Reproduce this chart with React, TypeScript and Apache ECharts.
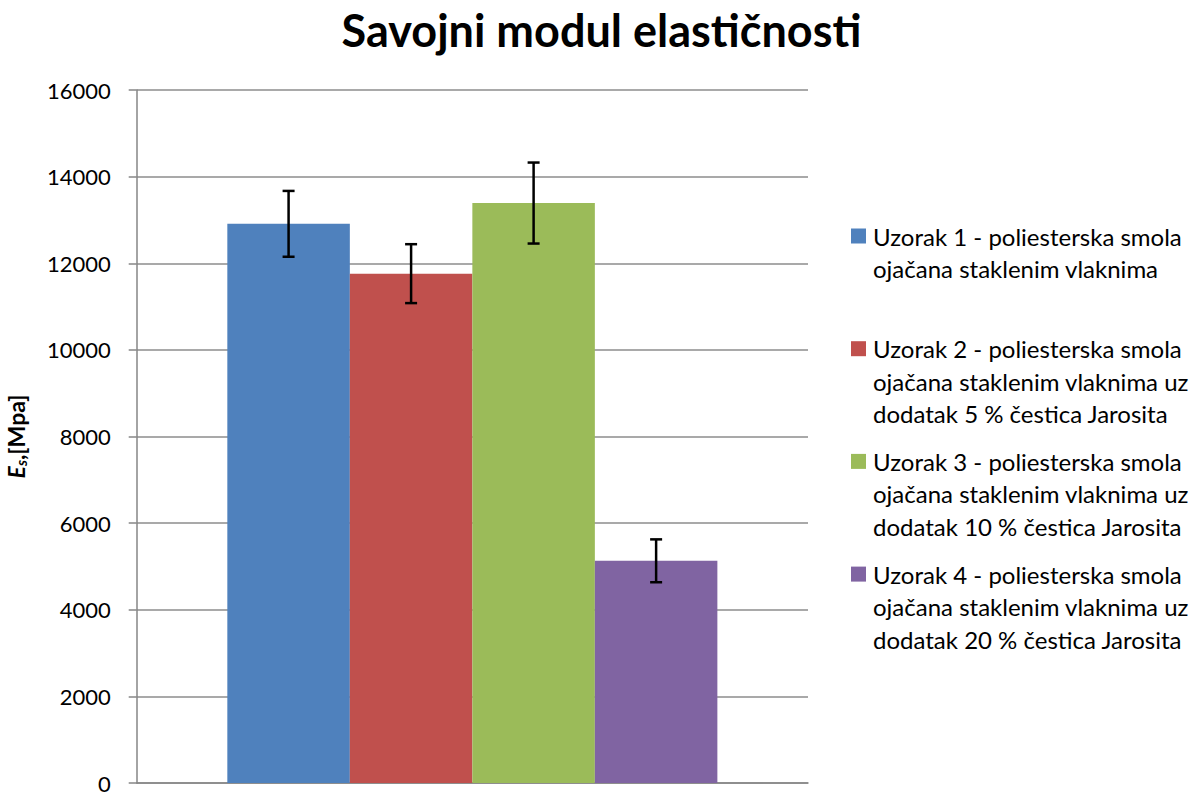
import React, { useEffect, useRef } from "react";
import * as echarts from "echarts";

const categories = [""];
const seriesNames = [
  "Uzorak 1 - poliesterska smola ojačana staklenim vlaknima",
  "Uzorak 2 - poliesterska smola ojačana staklenim vlaknima uz dodatak 5 % čestica Jarosita",
  "Uzorak 3 - poliesterska smola ojačana staklenim vlaknima uz dodatak 10 % čestica Jarosita",
  "Uzorak 4 - poliesterska smola ojačana staklenim vlaknima uz dodatak 20 % čestica Jarosita",
];
const legendLines = [
  ["Uzorak 1 - poliesterska smola", "ojačana staklenim vlaknima"],
  ["Uzorak 2 - poliesterska smola", "ojačana staklenim vlaknima uz", "dodatak 5 % čestica Jarosita"],
  ["Uzorak 3 - poliesterska smola", "ojačana staklenim vlaknima uz", "dodatak 10 % čestica Jarosita"],
  ["Uzorak 4 - poliesterska smola", "ojačana staklenim vlaknima uz", "dodatak 20 % čestica Jarosita"],
];
const values = [12910, 11760, 13390, 5130];
const errors = [760, 680, 935, 495];
const colors = ["#4F81BD", "#C0504D", "#9BBB59", "#8064A2"];
const yMin = 0;
const yMax = 16000;
const yInterval = 2000;
const titleText = "Savojni modul elastičnosti";

const CAT_GAP = 0.27;

export default function App() {
  const ref = useRef<HTMLDivElement>(null);
  useEffect(() => {
    if (!ref.current) return;
    const chart = echarts.init(ref.current, null, { renderer: "svg" });

    const barSeries = seriesNames.map((name, i) => ({
      name,
      type: "bar",
      data: [values[i]],
      barGap: "0%",
      barCategoryGap: CAT_GAP * 100 + "%",
      itemStyle: { color: colors[i] },
      z: 2,
    }));

    const errData = values.map((v, i) => [0, v - errors[i], v + errors[i], i]);

    const legendGraphics: any[] = [];
    const legendTop = 236;
    const legendStep = 112.7;
    const lineH = 32.5;
    legendLines.forEach((lines, i) => {
      const cy = legendTop + i * legendStep;
      legendGraphics.push({
        type: "rect",
        shape: { x: 851, y: cy - 7.5, width: 15, height: 15 },
        style: { fill: colors[i] },
      });
      legendGraphics.push({
        type: "text",
        x: 873,
        y: cy - lineH / 2,
        style: {
          text: lines.join("\n"),
          font: "24px Lato",
          fill: "#000",
          lineHeight: lineH,
          verticalAlign: "top",
          align: "left",
        },
      });
    });

    chart.setOption({
      animation: false,
      title: {
        text: titleText,
        left: "center",
        top: 2,
        textStyle: { fontFamily: "Lato", fontWeight: "bold", fontSize: 45, color: "#000" },
      },
      grid: {
        left: 136.7,
        right: 395,
        top: 90,
        bottom: 9,
        containLabel: false,
        outerBoundsMode: "none",
      },
      xAxis: {
        type: "category",
        data: categories,
        axisLine: { lineStyle: { color: "#868686", width: 1.5 } },
        axisTick: { show: false },
        axisLabel: { show: false },
      },
      yAxis: {
        type: "value",
        min: yMin,
        max: yMax,
        interval: yInterval,
        name: "{e|E}{s|s}{n|,[Mpa]}",
        nameLocation: "middle",
        nameGap: 108,
        nameTextStyle: {
          rich: {
            e: { fontFamily: "Lato", fontWeight: "bold", fontStyle: "italic", fontSize: 23, lineHeight: 26, color: "#000" },
            s: { fontFamily: "Lato", fontWeight: "bold", fontStyle: "italic", fontSize: 15, lineHeight: 26, verticalAlign: "bottom", color: "#000" },
            n: { fontFamily: "Lato", fontWeight: "bold", fontSize: 23, lineHeight: 26, color: "#000" },
          },
        },
        axisLine: { show: true, lineStyle: { color: "#868686", width: 1.5 } },
        axisTick: { show: true, length: 8, lineStyle: { color: "#868686", width: 1.5 } },
        axisLabel: {
          fontFamily: "Lato",
          fontSize: 22,
          color: "#000",
          margin: 26,
          formatter: (v: number) => String(v),
        },
        splitLine: { lineStyle: { color: "#8C8C8C", width: 1.5 } },
      },
      series: [
        ...barSeries,
        {
          type: "custom",
          name: "err",
          z: 5,
          dimensions: ["x", "low", "high", "idx"],
          encode: { x: 0, y: [1, 2] },
          data: errData,
          renderItem: (params: any, api: any) => {
            const idx = api.value(3);
            const lo = api.coord([api.value(0), api.value(1)]);
            const hi = api.coord([api.value(0), api.value(2)]);
            const band = api.size([1, 0])[0];
            const barW = (band * (1 - CAT_GAP)) / seriesNames.length;
            const x = lo[0] + (idx - (seriesNames.length - 1) / 2) * barW;
            const cap = 6;
            const st = { stroke: "#000", lineWidth: 2.5 };
            return {
              type: "group",
              children: [
                { type: "line", shape: { x1: x, y1: lo[1], x2: x, y2: hi[1] }, style: st },
                { type: "line", shape: { x1: x - cap, y1: hi[1], x2: x + cap, y2: hi[1] }, style: st },
                { type: "line", shape: { x1: x - cap, y1: lo[1], x2: x + cap, y2: lo[1] }, style: st },
              ],
            };
          },
        },
      ],
      graphic: legendGraphics,
    });
    return () => chart.dispose();
  }, []);
  return <div ref={ref} style={{ width: 1203, height: 792, position: "absolute", left: 0, top: 0 }} />;
}
